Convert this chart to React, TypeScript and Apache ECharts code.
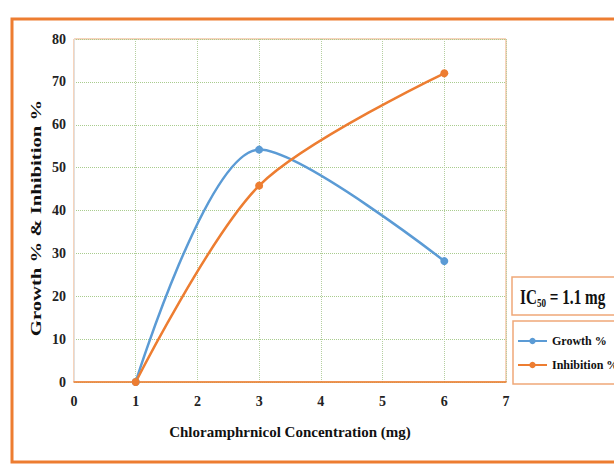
import React, { useEffect, useRef } from "react";
import * as echarts from "echarts";

const concentration = [1, 3, 6];
const growth = [0, 54.2, 28.2];
const inhibition = [0, 45.8, 72];
const xTicks = [0, 1, 2, 3, 4, 5, 6, 7];
const yTicks = [0, 10, 20, 30, 40, 50, 60, 70, 80];
const seriesNames = ["Growth %", "Inhibition %"];
const xTitle = "Chloramphrnicol Concentration (mg)";
const yTitle = "Growth % & Inhibition %";
const icLabel = "IC";
const icSub = "50";
const icValue = " = 1.1 mg";

const FONT = "'Liberation Serif', 'Times New Roman', serif";
const BLUE = "#5B9BD5";
const ORANGE = "#ED7D31";

export default function App() {
  const ref = useRef<HTMLDivElement>(null);
  useEffect(() => {
    if (!ref.current) return;
    const chart = echarts.init(ref.current, undefined, { renderer: "svg" });
    const toPairs = (ys: number[]) => concentration.map((x, i) => [x, ys[i]]);
    chart.setOption({
      animation: false,
      backgroundColor: "#ffffff",
      grid: {
        left: 74,
        top: 39,
        width: 432,
        height: 343,
        show: true,
        borderColor: "#EFA878",
        borderWidth: 1,
      },
      xAxis: {
        type: "value",
        min: xTicks[0],
        max: xTicks[xTicks.length - 1],
        interval: 1,
        axisLine: { show: true, onZero: false, lineStyle: { color: ORANGE, width: 1.5 } },
        axisTick: { show: false },
        axisLabel: {
          margin: 12,
          fontFamily: FONT,
          fontWeight: "bold",
          fontSize: 14,
          color: "#222",
        },
        splitLine: { show: true, lineStyle: { type: "dotted", color: "#B5CFA0", width: 1 } },
        name: xTitle,
        nameLocation: "middle",
        nameGap: 42,
        nameTextStyle: { fontFamily: FONT, fontWeight: "bold", fontSize: 15, color: "#111" },
      },
      yAxis: {
        type: "value",
        min: yTicks[0],
        max: yTicks[yTicks.length - 1],
        interval: 10,
        axisLine: { show: true, lineStyle: { color: "#E0E0E0", width: 1 } },
        axisTick: { show: false },
        axisLabel: {
          margin: 8,
          fontFamily: FONT,
          fontWeight: "bold",
          fontSize: 14,
          color: "#222",
        },
        splitLine: { show: true, lineStyle: { type: "dotted", color: "#A9CC8E", width: 1 } },
      },
      legend: {
        orient: "vertical",
        left: 513,
        top: 321,
        data: seriesNames,
        itemWidth: 29,
        itemHeight: 8,
        itemGap: 12,
        padding: [14, 12, 13, 4],
        borderColor: "#EFA878",
        borderWidth: 1.5,
        textStyle: { fontFamily: FONT, fontWeight: "bold", fontSize: 12, color: "#111" },
      },
      graphic: [
        {
          type: "rect",
          shape: { x: 12, y: 19, width: 640, height: 443 },
          style: { fill: "none", stroke: ORANGE, lineWidth: 3 },
          z: 10,
        },
        {
          type: "text",
          x: 36,
          y: 218,
          rotation: Math.PI / 2,
          scaleX: 1.38,
          style: {
            text: yTitle,
            align: "center",
            verticalAlign: "middle",
            fontFamily: FONT,
            fontWeight: "bold",
            fontSize: 15,
            fill: "#111",
          },
          z: 6,
        },
        {
          type: "rect",
          shape: { x: 512, y: 277, width: 140, height: 38 },
          style: { fill: "#fff", stroke: "#EFA878", lineWidth: 1.5 },
          z: 5,
        },
        {
          type: "text",
          x: 520,
          y: 297,
          scaleX: 0.76,
          style: {
            text: `{a|${icLabel}}{s|${icSub}}{a|${icValue}}`,
            verticalAlign: "middle",
            rich: {
              a: { fontFamily: FONT, fontWeight: "bold", fontSize: 20, fill: "#111", verticalAlign: "middle" },
              s: { fontFamily: FONT, fontWeight: "bold", fontSize: 12, fill: "#111", padding: [12, 0, 0, 0] },
            },
          },
          z: 6,
        },
      ],
      series: [
        {
          name: seriesNames[0],
          type: "line",
          data: toPairs(growth),
          smooth: 0.3,
          symbol: "circle",
          symbolSize: 8,
          lineStyle: { color: BLUE, width: 2.5 },
          itemStyle: { color: BLUE },
        },
        {
          name: seriesNames[1],
          type: "line",
          data: toPairs(inhibition),
          smooth: 0.3,
          symbol: "circle",
          symbolSize: 8,
          lineStyle: { color: ORANGE, width: 2.5 },
          itemStyle: { color: ORANGE },
        },
      ],
    });
    return () => chart.dispose();
  }, []);
  return (
    <div
      ref={ref}
      style={{ position: "absolute", left: 0, top: 0, width: 614, height: 464 }}
    />
  );
}
